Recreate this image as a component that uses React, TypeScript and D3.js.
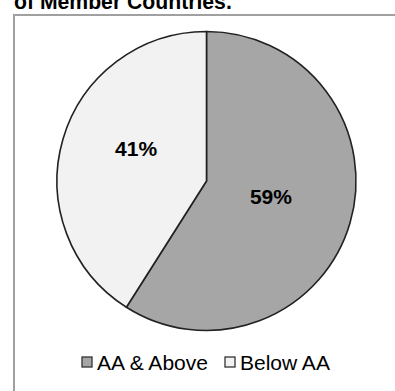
import React from "react";
import * as d3 from "d3";

const categories = ["AA & Above", "Below AA"];
const values = [59, 41];
const valueLabels = ["59%", "41%"];
const title = "of Member Countries.";

const colors = ["#a6a6a6", "#f2f2f2"];
const labelAngleFrac = [0.487, 0.56];
const labelRadiusFrac = [0.443, 0.52];

export default function App() {
  const W = 395, H = 391;
  const cx = 206.5, cy = 181, r = 149.5;
  const pie = d3.pie<number>().sort(null).value((d) => d)(values);
  const arc = d3.arc<d3.PieArcDatum<number>>().innerRadius(0).outerRadius(r);
  const legendX = [82, 225];
  const font = "Liberation Sans, Arial, sans-serif";
  return (
    <svg width={W} height={H} style={{ position: "absolute", left: 0, top: 0, background: "#fff" }}>
      <text x={14} y={8.5} fontFamily={font} fontWeight="bold" fontSize={21.2} fill="#000">
        {title}
      </text>
      <rect x={14} y={15} width={W} height={H} fill="#fff" stroke="#a0a0a0" strokeWidth={2} />
      <g transform={`translate(${cx},${cy})`}>
        {pie.map((p, i) => (
          <path key={i} d={arc(p) || ""} fill={colors[i]} stroke="#222" strokeWidth={1.6} strokeLinejoin="round" />
        ))}
        {pie.map((p, i) => {
          const a = p.startAngle + (p.endAngle - p.startAngle) * labelAngleFrac[i];
          const rr = r * labelRadiusFrac[i];
          return (
            <text
              key={"l" + i}
              x={Math.sin(a) * rr}
              y={-Math.cos(a) * rr}
              dy="0.36em"
              textAnchor="middle"
              fontFamily={font}
              fontWeight="bold"
              fontSize={21}
              fill="#000"
            >
              {valueLabels[i]}
            </text>
          );
        })}
      </g>
      {categories.map((c, i) => (
        <g key={c}>
          <rect x={legendX[i]} y={357} width={10} height={10} fill={colors[i]} stroke="#333" strokeWidth={1.3} />
          <text x={legendX[i] + 15} y={370} fontFamily={font} fontSize={21} fill="#000">
            {c}
          </text>
        </g>
      ))}
    </svg>
  );
}
